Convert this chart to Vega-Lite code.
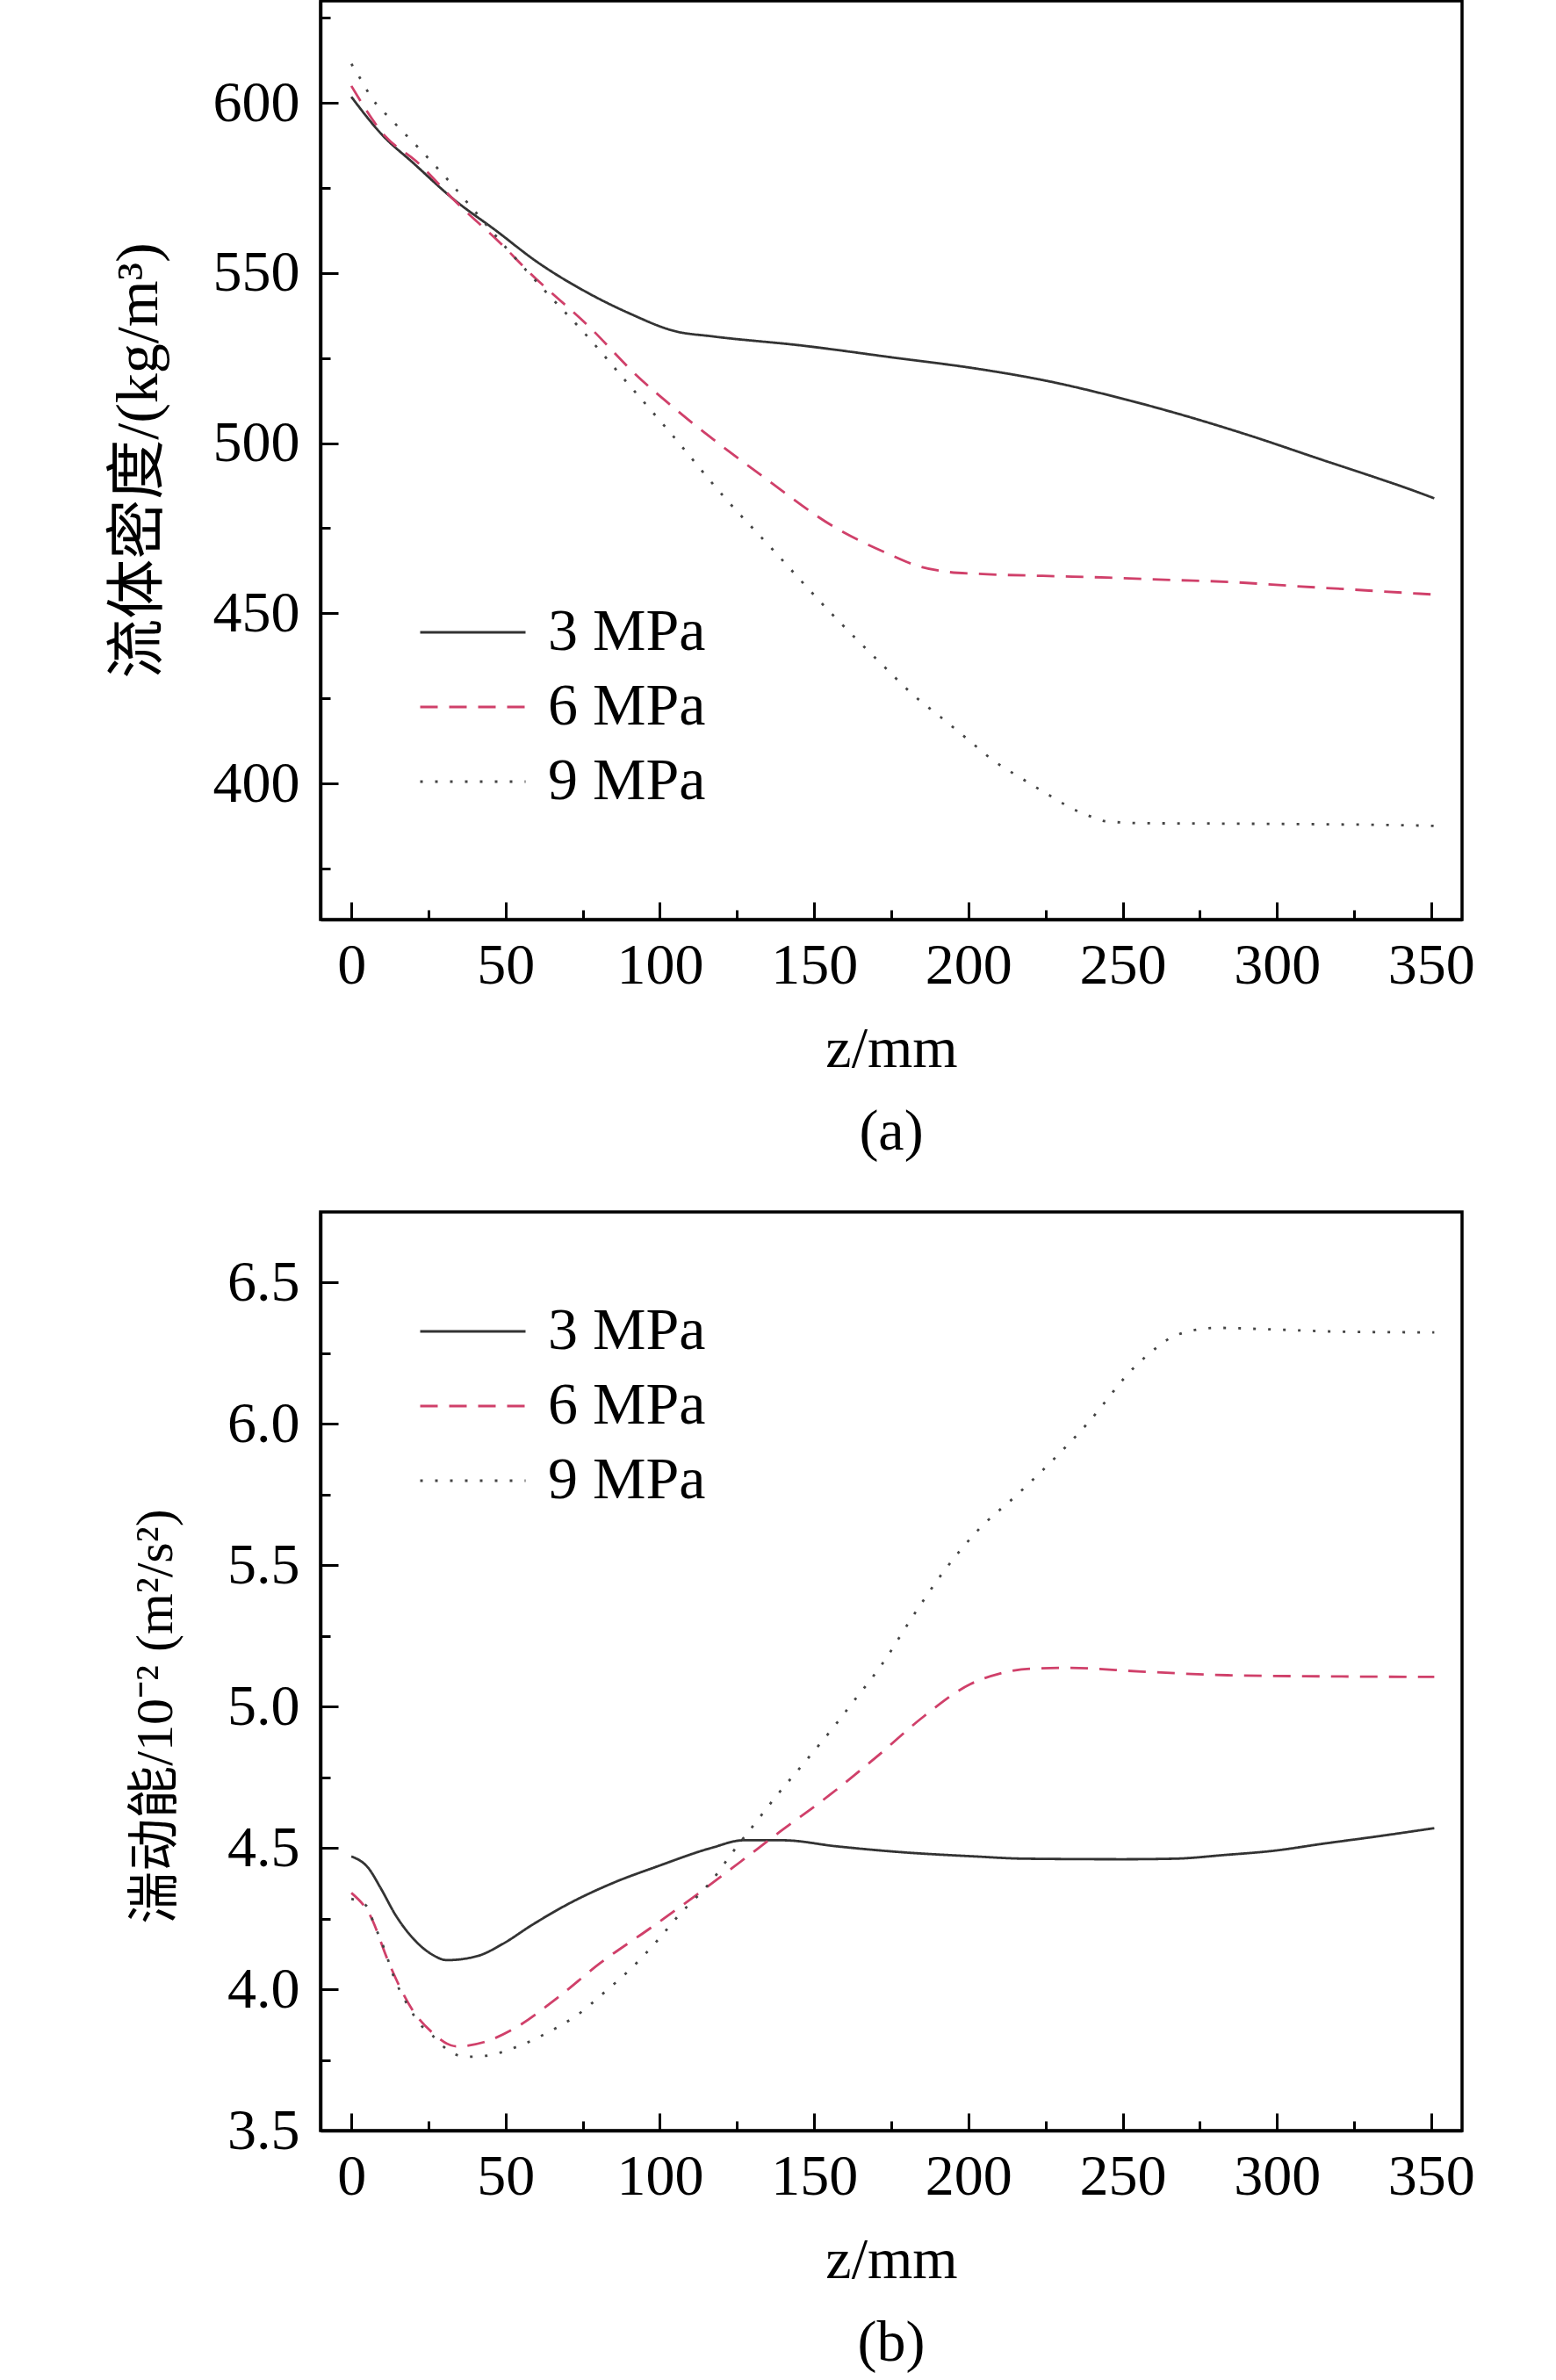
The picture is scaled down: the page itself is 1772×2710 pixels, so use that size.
{
  "$schema": "https://vega.github.io/schema/vega-lite/v6.json",
  "background": "white",
  "padding": {"left": 122, "top": -15, "right": 10, "bottom": 10},
  "spacing": 54,
  "resolve": {
    "scale": {"color": "independent", "strokeDash": "independent"},
    "legend": {"color": "independent", "strokeDash": "independent"}
  },
  "config": {
    "view": {"stroke": "black", "strokeWidth": 3.5},
    "axis": {
      "labelFont": "Liberation Serif",
      "titleFont": "Liberation Serif, Noto Sans CJK SC",
      "labelFontSize": 66,
      "titleFontSize": 66,
      "titleFontWeight": "normal",
      "labelColor": "black",
      "titleColor": "black",
      "domainColor": "black",
      "domainWidth": 3.5,
      "tickColor": "black",
      "tickWidth": 3,
      "grid": false,
      "labelOverlap": false,
      "labelFlush": false
    },
    "legend": {
      "orient": "none",
      "title": null,
      "padding": 0,
      "labelFont": "Liberation Serif",
      "labelFontSize": 68,
      "labelColor": "black",
      "labelLimit": 500,
      "symbolType": "stroke",
      "symbolSize": 14400,
      "symbolStrokeWidth": 3,
      "clipHeight": 60,
      "rowPadding": 17,
      "labelOffset": 24
    },
    "title": {
      "font": "Liberation Serif",
      "fontSize": 66,
      "fontWeight": "normal",
      "color": "black",
      "orient": "bottom",
      "anchor": "middle",
      "offset": 30
    },
    "line": {"strokeWidth": 2.8, "interpolate": "monotone"}
  },
  "datasets": {
    "density": [
      {"p": "3 MPa", "z": 0, "v": 601.8}, {"p": "3 MPa", "z": 10, "v": 590.6}, {"p": "3 MPa", "z": 20, "v": 582.4},
      {"p": "3 MPa", "z": 33, "v": 571.8}, {"p": "3 MPa", "z": 47, "v": 562.4}, {"p": "3 MPa", "z": 60, "v": 553.4},
      {"p": "3 MPa", "z": 76, "v": 544.5}, {"p": "3 MPa", "z": 90, "v": 538.2}, {"p": "3 MPa", "z": 105, "v": 532.9},
      {"p": "3 MPa", "z": 117, "v": 531.4}, {"p": "3 MPa", "z": 146, "v": 528.7}, {"p": "3 MPa", "z": 177, "v": 525.0},
      {"p": "3 MPa", "z": 202, "v": 522.0}, {"p": "3 MPa", "z": 226, "v": 518.2}, {"p": "3 MPa", "z": 249, "v": 513.3},
      {"p": "3 MPa", "z": 267, "v": 508.9}, {"p": "3 MPa", "z": 291, "v": 502.3}, {"p": "3 MPa", "z": 315, "v": 495.0},
      {"p": "3 MPa", "z": 332, "v": 489.9}, {"p": "3 MPa", "z": 342, "v": 486.8}, {"p": "3 MPa", "z": 351, "v": 483.8},
      {"p": "6 MPa", "z": 0, "v": 605.0}, {"p": "6 MPa", "z": 11, "v": 590.2}, {"p": "6 MPa", "z": 21, "v": 582.9},
      {"p": "6 MPa", "z": 34, "v": 570.8}, {"p": "6 MPa", "z": 49, "v": 558.2}, {"p": "6 MPa", "z": 57, "v": 550.8},
      {"p": "6 MPa", "z": 78, "v": 533.4}, {"p": "6 MPa", "z": 92, "v": 520.3}, {"p": "6 MPa", "z": 106, "v": 509.3},
      {"p": "6 MPa", "z": 134, "v": 489.8}, {"p": "6 MPa", "z": 157, "v": 475.1}, {"p": "6 MPa", "z": 174, "v": 467.5},
      {"p": "6 MPa", "z": 183, "v": 464.1}, {"p": "6 MPa", "z": 193, "v": 462.2}, {"p": "6 MPa", "z": 203, "v": 461.6},
      {"p": "6 MPa", "z": 224, "v": 461.0}, {"p": "6 MPa", "z": 245, "v": 460.5}, {"p": "6 MPa", "z": 266, "v": 459.8},
      {"p": "6 MPa", "z": 285, "v": 459.2}, {"p": "6 MPa", "z": 304, "v": 458.1}, {"p": "6 MPa", "z": 324, "v": 457.0},
      {"p": "6 MPa", "z": 342, "v": 456.0}, {"p": "6 MPa", "z": 351, "v": 455.5},
      {"p": "9 MPa", "z": 0, "v": 611.5}, {"p": "9 MPa", "z": 3, "v": 607.0}, {"p": "9 MPa", "z": 6, "v": 602.3},
      {"p": "9 MPa", "z": 14, "v": 594.1}, {"p": "9 MPa", "z": 22, "v": 586.6}, {"p": "9 MPa", "z": 30.5, "v": 578.2},
      {"p": "9 MPa", "z": 38, "v": 570.3}, {"p": "9 MPa", "z": 50, "v": 557.6}, {"p": "9 MPa", "z": 62, "v": 545.5},
      {"p": "9 MPa", "z": 77, "v": 530.9}, {"p": "9 MPa", "z": 89, "v": 518.2}, {"p": "9 MPa", "z": 104, "v": 502.4},
      {"p": "9 MPa", "z": 121, "v": 484.0}, {"p": "9 MPa", "z": 136.5, "v": 468.8}, {"p": "9 MPa", "z": 155, "v": 450.5},
      {"p": "9 MPa", "z": 173.4, "v": 433.7}, {"p": "9 MPa", "z": 182, "v": 426.1}, {"p": "9 MPa", "z": 191, "v": 419.5},
      {"p": "9 MPa", "z": 200, "v": 412.8}, {"p": "9 MPa", "z": 208, "v": 406.8}, {"p": "9 MPa", "z": 217, "v": 401.6},
      {"p": "9 MPa", "z": 227, "v": 396.1}, {"p": "9 MPa", "z": 233, "v": 392.9}, {"p": "9 MPa", "z": 239, "v": 390.5},
      {"p": "9 MPa", "z": 245, "v": 388.8}, {"p": "9 MPa", "z": 258, "v": 388.3}, {"p": "9 MPa", "z": 280, "v": 388.2},
      {"p": "9 MPa", "z": 313, "v": 388.0}, {"p": "9 MPa", "z": 342, "v": 387.7}, {"p": "9 MPa", "z": 351, "v": 387.5}
    ],
    "tke": [
      {"p": "3 MPa", "z": 0, "v": 4.47}, {"p": "3 MPa", "z": 5.5, "v": 4.429}, {"p": "3 MPa", "z": 9.6, "v": 4.356},
      {"p": "3 MPa", "z": 14.3, "v": 4.263}, {"p": "3 MPa", "z": 20, "v": 4.18}, {"p": "3 MPa", "z": 26, "v": 4.124},
      {"p": "3 MPa", "z": 31, "v": 4.103}, {"p": "3 MPa", "z": 41, "v": 4.118}, {"p": "3 MPa", "z": 49, "v": 4.16},
      {"p": "3 MPa", "z": 58.5, "v": 4.227}, {"p": "3 MPa", "z": 70, "v": 4.30}, {"p": "3 MPa", "z": 85, "v": 4.377},
      {"p": "3 MPa", "z": 99, "v": 4.434}, {"p": "3 MPa", "z": 117, "v": 4.501}, {"p": "3 MPa", "z": 127, "v": 4.527},
      {"p": "3 MPa", "z": 140, "v": 4.527}, {"p": "3 MPa", "z": 157, "v": 4.506}, {"p": "3 MPa", "z": 177, "v": 4.486},
      {"p": "3 MPa", "z": 202, "v": 4.47}, {"p": "3 MPa", "z": 218, "v": 4.462}, {"p": "3 MPa", "z": 250, "v": 4.46},
      {"p": "3 MPa", "z": 267, "v": 4.462}, {"p": "3 MPa", "z": 283, "v": 4.475}, {"p": "3 MPa", "z": 299, "v": 4.49},
      {"p": "3 MPa", "z": 315, "v": 4.515}, {"p": "3 MPa", "z": 332, "v": 4.54}, {"p": "3 MPa", "z": 351, "v": 4.57},
      {"p": "6 MPa", "z": 0, "v": 4.341}, {"p": "6 MPa", "z": 6, "v": 4.263}, {"p": "6 MPa", "z": 12, "v": 4.098},
      {"p": "6 MPa", "z": 15.4, "v": 4.015}, {"p": "6 MPa", "z": 19.5, "v": 3.932}, {"p": "6 MPa", "z": 26, "v": 3.849},
      {"p": "6 MPa", "z": 34, "v": 3.798}, {"p": "6 MPa", "z": 43, "v": 3.813}, {"p": "6 MPa", "z": 52.6, "v": 3.86},
      {"p": "6 MPa", "z": 66.6, "v": 3.968}, {"p": "6 MPa", "z": 80.6, "v": 4.092}, {"p": "6 MPa", "z": 97, "v": 4.217},
      {"p": "6 MPa", "z": 112, "v": 4.335}, {"p": "6 MPa", "z": 126, "v": 4.45}, {"p": "6 MPa", "z": 139, "v": 4.558},
      {"p": "6 MPa", "z": 155, "v": 4.687}, {"p": "6 MPa", "z": 170, "v": 4.82}, {"p": "6 MPa", "z": 185.5, "v": 4.965},
      {"p": "6 MPa", "z": 200.7, "v": 5.08}, {"p": "6 MPa", "z": 210.2, "v": 5.117}, {"p": "6 MPa", "z": 220.2, "v": 5.134},
      {"p": "6 MPa", "z": 233, "v": 5.137}, {"p": "6 MPa", "z": 256, "v": 5.124}, {"p": "6 MPa", "z": 284, "v": 5.111},
      {"p": "6 MPa", "z": 316, "v": 5.107}, {"p": "6 MPa", "z": 351, "v": 5.105},
      {"p": "9 MPa", "z": 0, "v": 4.32}, {"p": "9 MPa", "z": 5, "v": 4.294}, {"p": "9 MPa", "z": 7.3, "v": 4.232},
      {"p": "9 MPa", "z": 10.8, "v": 4.139}, {"p": "9 MPa", "z": 13.7, "v": 4.046}, {"p": "9 MPa", "z": 18.3, "v": 3.943},
      {"p": "9 MPa", "z": 22.4, "v": 3.875}, {"p": "9 MPa", "z": 26.5, "v": 3.834}, {"p": "9 MPa", "z": 31, "v": 3.787},
      {"p": "9 MPa", "z": 37, "v": 3.761}, {"p": "9 MPa", "z": 43, "v": 3.764}, {"p": "9 MPa", "z": 54, "v": 3.798},
      {"p": "9 MPa", "z": 64, "v": 3.849}, {"p": "9 MPa", "z": 73.6, "v": 3.912}, {"p": "9 MPa", "z": 82, "v": 3.989},
      {"p": "9 MPa", "z": 91, "v": 4.077}, {"p": "9 MPa", "z": 99, "v": 4.17}, {"p": "9 MPa", "z": 106, "v": 4.26},
      {"p": "9 MPa", "z": 117, "v": 4.387}, {"p": "9 MPa", "z": 124, "v": 4.491}, {"p": "9 MPa", "z": 131, "v": 4.589},
      {"p": "9 MPa", "z": 138, "v": 4.687}, {"p": "9 MPa", "z": 146, "v": 4.791}, {"p": "9 MPa", "z": 158, "v": 4.951},
      {"p": "9 MPa", "z": 161.3, "v": 4.998}, {"p": "9 MPa", "z": 172.2, "v": 5.153}, {"p": "9 MPa", "z": 181.9, "v": 5.318},
      {"p": "9 MPa", "z": 192.2, "v": 5.481}, {"p": "9 MPa", "z": 203.1, "v": 5.624}, {"p": "9 MPa", "z": 215.9, "v": 5.751},
      {"p": "9 MPa", "z": 228.9, "v": 5.889}, {"p": "9 MPa", "z": 238.3, "v": 5.998}, {"p": "9 MPa", "z": 254, "v": 6.203},
      {"p": "9 MPa", "z": 258, "v": 6.243}, {"p": "9 MPa", "z": 268, "v": 6.317}, {"p": "9 MPa", "z": 280.5, "v": 6.34},
      {"p": "9 MPa", "z": 297, "v": 6.335}, {"p": "9 MPa", "z": 322.5, "v": 6.326}, {"p": "9 MPa", "z": 351, "v": 6.324}
    ]
  },
  "vconcat": [
    {
      "width": 1300,
      "height": 1046,
      "title": {"text": "(a)"},
      "data": {"name": "density"},
      "mark": {"type": "line"},
      "encoding": {
        "x": {
          "field": "z",
          "type": "quantitative",
          "scale": {"domain": [-10, 360], "nice": false, "zero": false},
          "axis": {
            "title": "z/mm",
            "values": [0, 25, 50, 75, 100, 125, 150, 175, 200, 225, 250, 275, 300, 325, 350],
            "labelExpr": "datum.value % 50 === 0 ? datum.label : ''",
            "tickSize": {"condition": {"test": "datum.value % 50 === 0", "value": -20}, "value": -11},
            "labelPadding": 40,
            "titlePadding": 21
          }
        },
        "y": {
          "field": "v",
          "type": "quantitative",
          "scale": {"domain": [360, 630], "nice": false, "zero": false},
          "axis": {
            "title": "流体密度/(kg/m³)",
            "titleFontSize": 68,
            "values": [375, 400, 425, 450, 475, 500, 525, 550, 575, 600, 625],
            "labelExpr": "datum.value % 50 === 0 ? datum.label : ''",
            "tickSize": {"condition": {"test": "datum.value % 50 === 0", "value": -20}, "value": -11},
            "labelPadding": 44,
            "titlePadding": 50
          }
        },
        "color": {
          "field": "p",
          "type": "nominal",
          "scale": {"domain": ["3 MPa", "6 MPa", "9 MPa"], "range": ["#333333", "#d0406a", "#444444"]},
          "legend": {"legendX": 112, "legendY": 689}
        },
        "strokeDash": {
          "field": "p",
          "type": "nominal",
          "scale": {"domain": ["3 MPa", "6 MPa", "9 MPa"], "range": [[1, 0], [20, 13], [3, 14]]},
          "legend": {"legendX": 112, "legendY": 689}
        }
      }
    },
    {
      "width": 1300,
      "height": 1046,
      "title": {"text": "(b)"},
      "data": {"name": "tke"},
      "mark": {"type": "line"},
      "encoding": {
        "x": {
          "field": "z",
          "type": "quantitative",
          "scale": {"domain": [-10, 360], "nice": false, "zero": false},
          "axis": {
            "title": "z/mm",
            "values": [0, 25, 50, 75, 100, 125, 150, 175, 200, 225, 250, 275, 300, 325, 350],
            "labelExpr": "datum.value % 50 === 0 ? datum.label : ''",
            "tickSize": {"condition": {"test": "datum.value % 50 === 0", "value": -20}, "value": -11},
            "labelPadding": 40,
            "titlePadding": 21
          }
        },
        "y": {
          "field": "v",
          "type": "quantitative",
          "scale": {"domain": [3.5, 6.75], "nice": false, "zero": false},
          "axis": {
            "title": "湍动能/10⁻² (m²/s²)",
            "titleFontSize": 60,
            "titleY": 574,
            "values": [3.5, 3.75, 4, 4.25, 4.5, 4.75, 5, 5.25, 5.5, 5.75, 6, 6.25, 6.5],
            "labelExpr": "(datum.value * 4) % 2 === 0 ? format(datum.value, '.1f') : ''",
            "tickSize": {"condition": {"test": "(datum.value * 4) % 2 === 0", "value": -20}, "value": -11},
            "labelPadding": 44,
            "titlePadding": 50
          }
        },
        "color": {
          "field": "p",
          "type": "nominal",
          "scale": {"domain": ["3 MPa", "6 MPa", "9 MPa"], "range": ["#333333", "#d0406a", "#444444"]},
          "legend": {"legendX": 112, "legendY": 106}
        },
        "strokeDash": {
          "field": "p",
          "type": "nominal",
          "scale": {"domain": ["3 MPa", "6 MPa", "9 MPa"], "range": [[1, 0], [20, 13], [3, 14]]},
          "legend": {"legendX": 112, "legendY": 106}
        }
      }
    }
  ]
}
